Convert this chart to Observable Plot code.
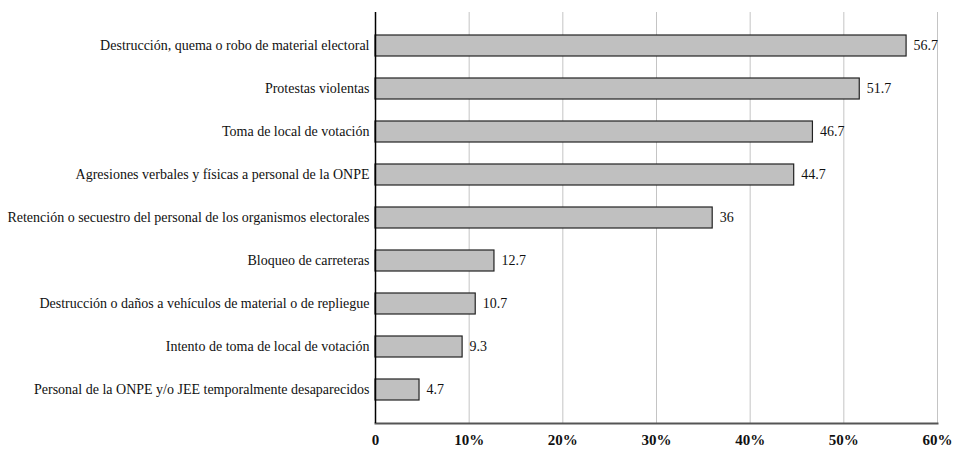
<!DOCTYPE html>
<html><head><meta charset="utf-8">
<script src="https://cdn.jsdelivr.net/npm/d3@7"></script>
<script src="https://cdn.jsdelivr.net/npm/@observablehq/plot@0.6"></script>
<style>
body{margin:0;background:#fff}
</style>
</head><body><div id="chart"></div>
<script>
const categories = [
  "Destrucción, quema o robo de material electoral",
  "Protestas violentas",
  "Toma de local de votación",
  "Agresiones verbales y físicas a personal de la ONPE",
  "Retención o secuestro del personal de los organismos electorales",
  "Bloqueo de carreteras",
  "Destrucción o daños a vehículos de material o de repliegue",
  "Intento de toma de local de votación",
  "Personal de la ONPE y/o JEE temporalmente desaparecidos"
];
const values = [56.7, 51.7, 46.7, 44.7, 36, 12.7, 10.7, 9.3, 4.7];
const valueLabels = ["56.7", "51.7", "46.7", "44.7", "36", "12.7", "10.7", "9.3", "4.7"];
const tickValues = [0, 10, 20, 30, 40, 50, 60];
const tickLabels = ["0", "10%", "20%", "30%", "40%", "50%", "60%"];

const data = categories.map((c, i) => ({cat: c, v: values[i], lab: valueLabels[i]}));
const FF = "Liberation Serif";

const chart = Plot.plot({
  width: 954, height: 449,
  marginLeft: 375, marginRight: 17, marginTop: 12, marginBottom: 26,
  style: {fontSize: "14px", color: "#111", fontFamily: FF},
  x: {domain: [0, 60], label: null},
  y: {domain: categories, padding: 0.52, label: null},
  marks: [
    Plot.gridX(tickValues.slice(1), {stroke: "#c4c4c4", strokeOpacity: 1, strokeWidth: 1}),
    Plot.axisY({tickSize: 0, tickPadding: 6, fontSize: 14, fontFamily: FF}),
    Plot.axisX(tickValues, {tickSize: 0, tickPadding: 11, fontSize: 15, fontWeight: 600, fontFamily: FF, tickFormat: d => tickLabels[tickValues.indexOf(d)]}),
    Plot.barX(data, {y: "cat", x: "v", fill: "#c0c0c0", stroke: "#222", strokeWidth: 1.2}),
    Plot.text(data, {y: "cat", x: "v", text: "lab", dx: 7, textAnchor: "start", fill: "#111", fontSize: 14, fontFamily: FF}),
    Plot.frame({anchor: "bottom", stroke: "#555", strokeWidth: 2}),
    Plot.ruleX([0], {stroke: "#000", strokeWidth: 1.5})
  ]
});
document.getElementById("chart").appendChild(chart);
</script></body></html>
